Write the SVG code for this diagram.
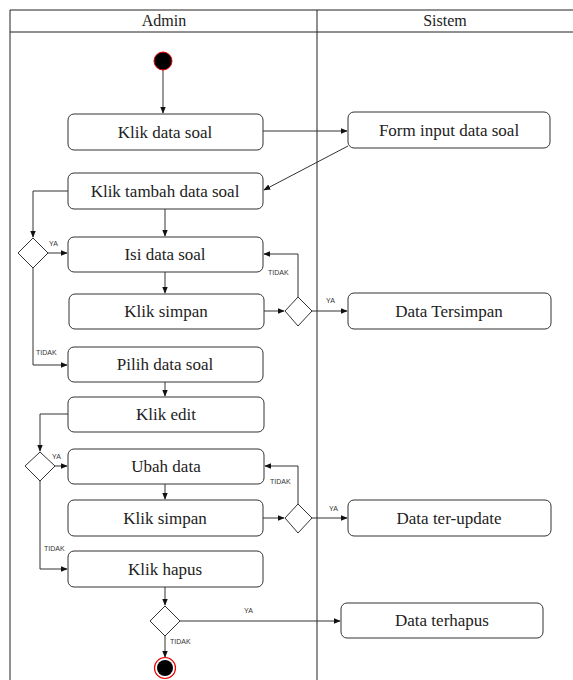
<svg xmlns="http://www.w3.org/2000/svg" width="573" height="680" viewBox="0 0 573 680">
<style>
.box{fill:#fff;stroke:#333;stroke-width:1}
.t{font-family:"Liberation Serif",serif;font-size:17px;fill:#222;text-anchor:middle;dominant-baseline:central}
.h{font-family:"Liberation Serif",serif;font-size:16px;fill:#222;text-anchor:middle;dominant-baseline:central}
.lbl{font-family:"Liberation Sans",sans-serif;font-size:7px;fill:#333}
.c{fill:none;stroke:#333;stroke-width:1}
.d{fill:#fff;stroke:#333;stroke-width:1}
.lane{fill:none;stroke:#222;stroke-width:1}
</style>
<defs>
<marker id="ah" viewBox="0 0 10 10" refX="9" refY="5" markerWidth="7" markerHeight="7" orient="auto" markerUnits="userSpaceOnUse">
<path d="M0,1 L10,5 L0,9 Z" fill="#111"/>
</marker>
</defs>
<rect width="573" height="680" fill="#fff"/>
<g id="swimlanes">
<path class="lane" d="M10,680 V10 H573 M10,32 H573 M317,10 V680"/>
<text class="h" x="164" y="20">Admin</text>
<text class="h" x="445" y="20">Sistem</text>
</g>
<g id="connectors">
<path class="c" marker-end="url(#ah)" d="M163,70 V113"/>
<path class="c" marker-end="url(#ah)" d="M263,131 H347"/>
<path class="c" marker-end="url(#ah)" d="M348,146 L264,190"/>
<path class="c" marker-end="url(#ah)" d="M165,209 V236"/>
<path class="c" marker-end="url(#ah)" d="M68,191 H33 V237"/>
<path class="c" marker-end="url(#ah)" d="M48,253 H67"/>
<path class="c" marker-end="url(#ah)" d="M165,272 V293"/>
<path class="c" marker-end="url(#ah)" d="M264,311 H284"/>
<path class="c" marker-end="url(#ah)" d="M298,297 V254 H264"/>
<path class="c" marker-end="url(#ah)" d="M312,311 H347"/>
<path class="c" marker-end="url(#ah)" d="M33,268 V365 H67"/>
<path class="c" marker-end="url(#ah)" d="M165,382 V396"/>
<path class="c" marker-end="url(#ah)" d="M68,414 H40 V451"/>
<path class="c" marker-end="url(#ah)" d="M55,466 H67"/>
<path class="c" marker-end="url(#ah)" d="M165,484 V499"/>
<path class="c" marker-end="url(#ah)" d="M263,518 H284"/>
<path class="c" marker-end="url(#ah)" d="M298,504 V466 H265"/>
<path class="c" marker-end="url(#ah)" d="M312,518 H347"/>
<path class="c" marker-end="url(#ah)" d="M40,481 V569 H67"/>
<path class="c" marker-end="url(#ah)" d="M165,587 V605"/>
<path class="c" marker-end="url(#ah)" d="M180,621 H340"/>
<path class="c" marker-end="url(#ah)" d="M165,636 V657"/>
<text class="lbl" x="49" y="246">YA</text>
<text class="lbl" x="268" y="275">TIDAK</text>
<text class="lbl" x="326" y="303">YA</text>
<text class="lbl" x="36" y="355">TIDAK</text>
<text class="lbl" x="52" y="459">YA</text>
<text class="lbl" x="270" y="484">TIDAK</text>
<text class="lbl" x="329" y="511">YA</text>
<text class="lbl" x="44" y="551">TIDAK</text>
<text class="lbl" x="244" y="613">YA</text>
<text class="lbl" x="170" y="644">TIDAK</text>
</g>
<g id="start"><circle cx="163" cy="61" r="9" fill="#000" stroke="#e00" stroke-width="1"/></g>
<g id="klik-data-soal"><rect class="box" x="68" y="114" width="195" height="36" rx="6"/><text class="t" x="165" y="132">Klik data soal</text></g>
<g id="form-input"><rect class="box" x="348" y="112" width="202" height="36" rx="6"/><text class="t" x="449" y="130">Form input data soal</text></g>
<g id="klik-tambah"><rect class="box" x="68" y="173" width="195" height="36" rx="6"/><text class="t" x="165" y="191">Klik tambah data soal</text></g>
<g id="dec1"><path class="d" d="M33,238 L48,253 L33,268 L18,253 Z"/></g>
<g id="isi-data"><rect class="box" x="68" y="237" width="195" height="35" rx="6"/><text class="t" x="165" y="254">Isi data soal</text></g>
<g id="klik-simpan1"><rect class="box" x="69" y="294" width="195" height="35" rx="6"/><text class="t" x="166" y="311">Klik simpan</text></g>
<g id="dec2"><path class="d" d="M298,297 L312,311 L298,326 L285,311 Z"/></g>
<g id="data-tersimpan"><rect class="box" x="348" y="293" width="203" height="36" rx="6"/><text class="t" x="449" y="311">Data Tersimpan</text></g>
<g id="pilih-data"><rect class="box" x="68" y="347" width="195" height="35" rx="6"/><text class="t" x="165" y="364">Pilih data soal</text></g>
<g id="klik-edit"><rect class="box" x="68" y="397" width="196" height="35" rx="6"/><text class="t" x="166" y="414">Klik edit</text></g>
<g id="dec3"><path class="d" d="M40,452 L55,466 L40,481 L25,466 Z"/></g>
<g id="ubah-data"><rect class="box" x="68" y="449" width="196" height="35" rx="6"/><text class="t" x="166" y="466">Ubah data</text></g>
<g id="klik-simpan2"><rect class="box" x="68" y="500" width="195" height="36" rx="6"/><text class="t" x="165" y="518">Klik simpan</text></g>
<g id="dec4"><path class="d" d="M298,504 L312,518 L298,533 L285,518 Z"/></g>
<g id="data-update"><rect class="box" x="348" y="500" width="203" height="36" rx="6"/><text class="t" x="449" y="518">Data ter-update</text></g>
<g id="klik-hapus"><rect class="box" x="68" y="551" width="195" height="36" rx="6"/><text class="t" x="165" y="569">Klik hapus</text></g>
<g id="dec5"><path class="d" d="M165,606 L180,621 L165,636 L150,621 Z"/></g>
<g id="data-terhapus"><rect class="box" x="341" y="603" width="202" height="35" rx="6"/><text class="t" x="442" y="620">Data terhapus</text></g>
<g id="end"><circle cx="165" cy="668" r="10.5" fill="#fff" stroke="#e00" stroke-width="1.2"/><circle cx="165" cy="668" r="8" fill="#000"/></g>
</svg>
